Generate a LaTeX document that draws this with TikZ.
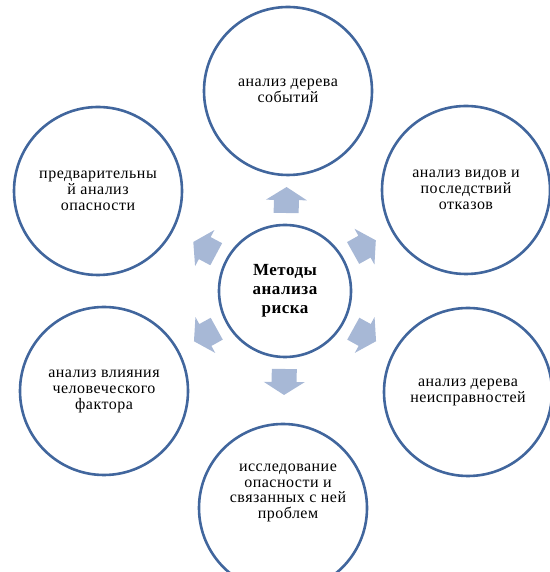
\documentclass[tikz,border=0pt]{standalone}
\usepackage{fontspec}
\setmainfont{Liberation Serif}[LetterSpace=3]
\usetikzlibrary{calc}

\definecolor{ringblue}{RGB}{65,102,157}
\definecolor{arrowblue}{RGB}{167,184,214}

\tikzset{
  ring/.style={draw=ringblue, line width=2.6pt, circle, minimum size=168pt, inner sep=0pt,
    align=center, font=\fontsize{16}{16}\selectfont},
  hub/.style={draw=ringblue, line width=2.6pt, circle, minimum size=132pt, inner sep=0pt,
    align=center, font=\fontsize{17}{19}\selectfont\bfseries},
  txt/.style={align=center, font=\fontsize{16}{15.5}\selectfont},
  blk/.pic={\fill[arrowblue] (-13,-12.5) -- (0,-12.5) -- (0,-20.5) -- (13,0) -- (0,20.5) -- (0,12.5) -- (-13,12.5) -- cycle;}
}

\begin{document}
\begin{tikzpicture}[x=1pt, y=1pt]
\useasboundingbox (0,0) rectangle (549,572);
% hub
\node[hub] (mc) at (285,281) {Методы\\анализа\\риска};
% methods round the hub
\node[ring] (top) at (288,481) {анализ дерева\\событий};
\node[ring] (tl) at (98,381) {предварительны\\й анализ\\опасности};
\node[ring] (tr) at (466,382) {анализ видов и\\последствий\\отказов};
\node[ring] (bl) at (104,181) {анализ влияния\\человеческого\\фактора};
\node[ring] (br) at (468,180) {анализ дерева\\неисправностей};
\node[ring] (bot) at (283,64) {};
\node[txt] (bottxt) at (288,79) {исследование\\опасности и\\связанных с ней\\проблем};
% block arrows
\foreach \n in {top,tl,tr,bl,br,bot}
  \path (mc) -- ($(mc)!91pt!(\n)$) pic[pos=1, sloped, allow upside down] {blk};
\end{tikzpicture}
\end{document}
